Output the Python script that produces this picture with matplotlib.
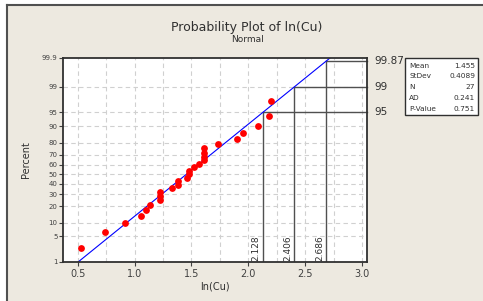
import numpy as np
import matplotlib
matplotlib.use("Agg")
import matplotlib.pyplot as plt
from matplotlib.lines import Line2D
from statistics import NormalDist

# ---- data ----
ln_cu = [0.529, 0.743, 0.913, 1.060, 1.098, 1.136, 1.224, 1.224, 1.224,
         1.332, 1.385, 1.385, 1.458, 1.476, 1.482, 1.526, 1.570, 1.611,
         1.611, 1.611, 1.611, 1.737, 1.898, 1.957, 2.089, 2.179, 2.200]
mean_val = 1.455
stdev_val = 0.4089
n_val = 27
ad_val = 0.241
p_val = 0.751
y_ticks = [1, 5, 10, 20, 30, 40, 50, 60, 70, 80, 90, 95, 99, 99.9]
y_tick_labels = ["1", "5", "10", "20", "30", "40", "50", "60", "70", "80", "90", "95", "99", "99.9"]
x_ticks = [0.5, 1.0, 1.5, 2.0, 2.5, 3.0]
ref_pcts = [95, 99, 99.87]
ref_pct_labels = ["95", "99", "99.87"]
ref_x_labels = ["2.128", "2.406", "2.686"]

nd = NormalDist()
_inv = np.vectorize(lambda p: nd.inv_cdf(min(max(p / 100.0, 1e-9), 1 - 1e-9)), otypes=[float])
_cdf = np.vectorize(lambda z: nd.cdf(z) * 100.0, otypes=[float])

def fwd(p):
    return _inv(np.asarray(p, dtype=float))

def inv(z):
    return _cdf(np.asarray(z, dtype=float))

bg = "#EDE9E0"
fig = plt.figure(figsize=(4.83, 3.01), dpi=100, facecolor=bg)
ax = fig.add_axes([63 / 483, 1 - 262 / 301, (367 - 63) / 483, (262 - 58) / 301])
ax.set_facecolor("white")
ax.set_yscale("function", functions=(fwd, inv))
ax.set_ylim(1, 99.9)
ax.set_xlim(0.371, 3.044)

# plotting positions (median ranks)
xs = sorted(ln_cu)
n = len(xs)
pcts = [(i + 1 - 0.3) / (n + 0.4) * 100 for i in range(n)]

# grid
for xv in np.arange(0.5, 3.01, 0.25):
    ax.axvline(xv, color="#D0D0D0", lw=0.8, ls=(0, (4, 3)), zorder=0)
for yv in y_ticks[1:-1]:
    ax.axhline(yv, color="#D0D0D0", lw=0.8, ls=(0, (4, 3)), zorder=0)

# fit line
zline = np.linspace(float(fwd(1.0)), float(fwd(99.9)), 50)
ax.plot(mean_val + stdev_val * zline, inv(zline), color="#0000FF", lw=0.8, zorder=2)

# reference lines
for pc in ref_pcts:
    xr = mean_val + stdev_val * float(fwd(pc))
    ax.plot([xr, 3.044], [pc, pc], color="#505050", lw=1.0, zorder=1, clip_on=False)
    ax.plot([xr, xr], [1, pc], color="#505050", lw=1.0, zorder=1)
for pc, lab in zip(ref_pcts, ref_pct_labels):
    ax.annotate(lab, xy=(1.0, pc), xycoords=("axes fraction", "data"),
                xytext=(5, 0), textcoords="offset points", va="center", ha="left",
                fontsize=7.5, color="#303030")
for pc, lab in zip(ref_pcts, ref_x_labels):
    xr = mean_val + stdev_val * float(fwd(pc))
    ax.annotate(lab, xy=(xr, 1), xycoords="data", xytext=(-1.5, 1),
                textcoords="offset points", rotation=90, ha="right", va="bottom",
                fontsize=6.5, color="#303030")

# points
ax.scatter(xs, pcts, s=24, color="#FF0000", zorder=3, linewidths=0)

ax.set_yticks(y_ticks)
ax.set_yticklabels(y_tick_labels)
ax.yaxis.set_minor_locator(matplotlib.ticker.NullLocator())
ax.set_xticks(x_ticks)
ax.set_xticklabels([f"{v:.1f}" for v in x_ticks])
ax.tick_params(axis="y", labelsize=5, length=3, width=0.8, colors="#404040", pad=1)
ax.tick_params(axis="x", labelsize=7, length=3, width=0.8, colors="#404040", pad=2)
for s in ax.spines.values():
    s.set_color("#303030")
    s.set_linewidth(1.3)

ax.set_xlabel("ln(Cu)", fontsize=7, color="#303030", labelpad=2)
ax.set_ylabel("Percent", fontsize=7, color="#303030", labelpad=8)

fig.text(247 / 483, 1 - 27 / 301, "Probability Plot of ln(Cu)", ha="center", va="center",
         fontsize=9, color="#303030")
fig.text(247 / 483, 1 - 40 / 301, "Normal", ha="center", va="center",
         fontsize=6.5, color="#303030")

# stats box
bx0, bx1, by0, by1 = 405, 478, 58, 115
fig.patches.append(matplotlib.patches.Rectangle((bx0 / 483, 1 - by1 / 301),
                   (bx1 - bx0) / 483, (by1 - by0) / 301, transform=fig.transFigure,
                   facecolor="white", edgecolor="#303030", lw=1.0))
names = ["Mean", "StDev", "N", "AD", "P-Value"]
vals = [f"{mean_val:.3f}", f"{stdev_val:.4f}", f"{n_val}", f"{ad_val:.3f}", f"{p_val:.3f}"]
rows_y = [66, 76, 87, 98, 109]
for nm, vv, ry in zip(names, vals, rows_y):
    fig.text(409 / 483, 1 - ry / 301, nm, ha="left", va="center", fontsize=5.3, color="#303030")
    fig.text(475 / 483, 1 - ry / 301, vv, ha="right", va="center", fontsize=5.3, color="#303030")

# window border
fig.add_artist(Line2D([6.5 / 483, 1], [1 - 5 / 301, 1 - 5 / 301], transform=fig.transFigure,
                      color="#505050", lw=1.5))
fig.add_artist(Line2D([7 / 483, 7 / 483], [0, 1 - 5 / 301], transform=fig.transFigure,
                      color="#505050", lw=1.5))
fig.add_artist(matplotlib.patches.Rectangle((0, 0), 6 / 483, 1, transform=fig.transFigure,
                                            facecolor="white", edgecolor="none"))
fig.add_artist(matplotlib.patches.Rectangle((0, 1 - 4 / 301), 1, 4 / 301, transform=fig.transFigure,
                                            facecolor="white", edgecolor="none"))

fig.savefig("out.png", dpi=100, facecolor=bg)
